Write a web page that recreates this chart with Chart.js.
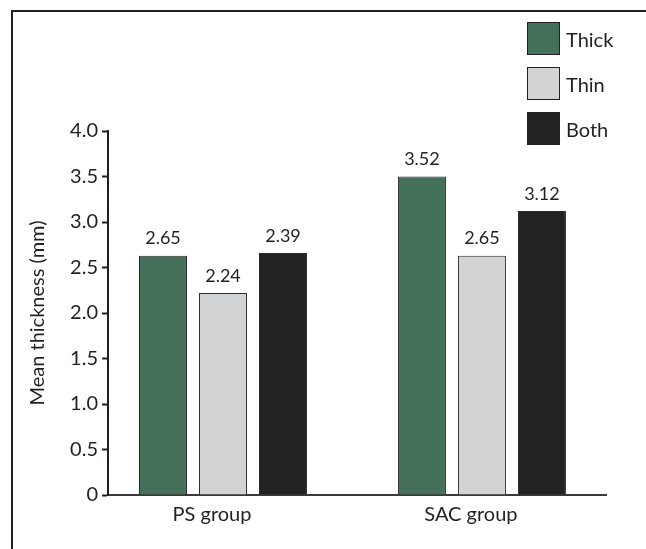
<!DOCTYPE html>
<html>
<head>
<meta charset="utf-8">
<script src="https://cdn.jsdelivr.net/npm/chart.js@4"></script>
<style>
  html, body { margin: 0; padding: 0; background: #fff; overflow: hidden; }
  #wrap { position: relative; width: 646px; height: 549px; }
  #frame { position: absolute; left: 11px; top: 10px; width: 700px; height: 600px; border: 2px solid #231f20; box-sizing: border-box; }
  #chart { position: absolute; left: 0; top: 0; }
  #legend { position: absolute; left: 527px; top: 22px; font-family: Lato, sans-serif; font-size: 20px; color: #231f20; }
  .item { display: flex; align-items: center; height: 33px; margin-bottom: 12px; }
  .box { width: 31px; height: 31px; border: 1px solid #231f20; margin-right: 6px; }
</style>
</head>
<body>
<div id="wrap">
  <div id="frame"></div>
  <canvas id="chart" width="646" height="549"></canvas>
  <div id="legend"></div>
</div>
<script>
const groups = ['PS group', 'SAC group'];
const seriesNames = ['Thick', 'Thin', 'Both'];
// bar heights as drawn
const thickValues = [2.63, 3.50];
const thinValues = [2.22, 2.63];
const bothValues = [2.66, 3.12];
// numbers printed above the bars
const thickLabels = ['2.65', '3.52'];
const thinLabels = ['2.24', '2.65'];
const bothLabels = ['2.39', '3.12'];
const yTicks = [0, 0.5, 1.0, 1.5, 2.0, 2.5, 3.0, 3.5, 4.0];

const colors = ['#45705a', '#d1d3d4', '#222220'];
const ink = '#231f20';
const font = 'Lato, sans-serif';

const valueLabels = {
    id: 'valueLabels',
    afterDatasetsDraw(chart) {
        const ctx = chart.ctx;
        ctx.save();
        ctx.font = '18px ' + font;
        ctx.fillStyle = ink;
        ctx.textAlign = 'center';
        ctx.textBaseline = 'bottom';
        chart.data.datasets.forEach((ds, i) => {
            chart.getDatasetMeta(i).data.forEach((bar, j) => {
                ctx.fillText(ds.valueText[j], bar.x, bar.y - 8);
            });
        });
        ctx.restore();
    }
};

function renderLegend() {
    const legend = document.getElementById('legend');
    seriesNames.forEach((name, i) => {
        const item = document.createElement('div');
        item.className = 'item';
        const box = document.createElement('div');
        box.className = 'box';
        box.style.background = colors[i];
        item.appendChild(box);
        const span = document.createElement('span');
        span.textContent = name;
        item.appendChild(span);
        legend.appendChild(item);
    });
}

// groups sit on a linear x axis at 0 and 1 so the gaps can follow the original
const toPoints = (vals) => vals.map((v, i) => ({ x: i, y: v }));

function renderChart() {
    const ctx = document.getElementById('chart').getContext('2d');
    new Chart(ctx, {
        type: 'bar',
        data: {
            datasets: [
                { label: seriesNames[0], data: toPoints(thickValues), valueText: thickLabels, backgroundColor: colors[0] },
                { label: seriesNames[1], data: toPoints(thinValues), valueText: thinLabels, backgroundColor: colors[1] },
                { label: seriesNames[2], data: toPoints(bothValues), valueText: bothLabels, backgroundColor: colors[2] }
            ].map(d => Object.assign(d, { borderColor: '#2a2a2a', borderWidth: 1, categoryPercentage: 0.695, barPercentage: 0.8 }))
        },
        options: {
            responsive: false,
            animation: false,
            layout: { padding: { top: 131, right: 40, left: 26, bottom: 0 } },
            plugins: {
                legend: { display: false },
                tooltip: { enabled: false }
            },
            scales: {
                x: {
                    type: 'linear',
                    min: -0.444,
                    max: 1.479,
                    offset: false,
                    afterBuildTicks: (s) => { s.ticks = groups.map((g, i) => ({ value: i })); },
                    grid: { display: false, drawTicks: false, offset: false },
                    border: { color: '#3a3a3a', width: 2 },
                    ticks: {
                        color: ink,
                        font: { family: font, size: 20 },
                        padding: 8,
                        labelOffset: -11,
                        callback: (v) => groups[v]
                    },
                    afterFit: (s) => { s.height = 54; }
                },
                y: {
                    min: 0,
                    max: 4,
                    afterBuildTicks: (s) => { s.ticks = yTicks.map(v => ({ value: v })); },
                    grid: { display: true, drawOnChartArea: false, drawTicks: true, tickLength: 6, tickColor: ink, tickWidth: 2 },
                    border: { color: ink, width: 2 },
                    ticks: {
                        color: ink,
                        font: { family: font, size: 20 },
                        padding: 4,
                        callback: (v) => v === 0 ? '0' : Number(v).toFixed(1)
                    },
                    title: { display: true, text: 'Mean thickness (mm)', color: ink, font: { family: font, size: 20 }, padding: 0 },
                    afterFit: (s) => { s.width = 82; }
                }
            }
        },
        plugins: [valueLabels]
    });
}

renderLegend();
renderChart();
</script>
</body>
</html>
